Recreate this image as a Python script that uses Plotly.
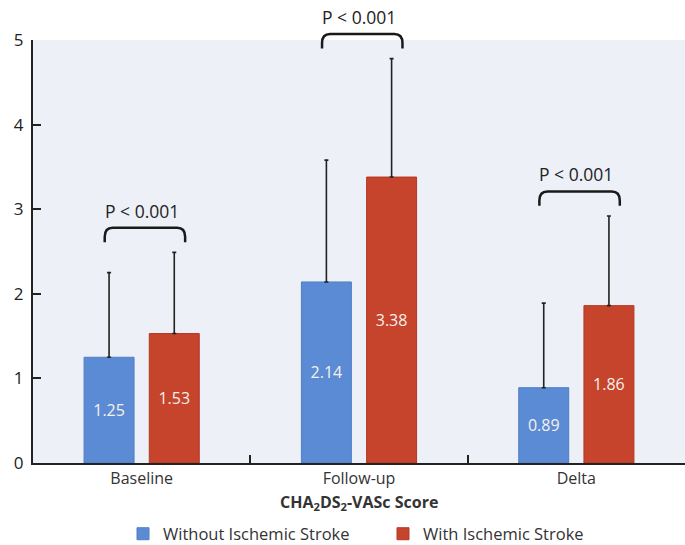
import plotly.graph_objects as go

categories = ["Baseline", "Follow-up", "Delta"]
without_mean = [1.25, 2.14, 0.89]
without_sd = [1.00, 1.44, 1.00]
with_mean = [1.53, 3.38, 1.86]
with_sd = [0.96, 1.40, 1.06]
p_labels = ["P < 0.001", "P < 0.001", "P < 0.001"]
y_ticks = [0, 1, 2, 3, 4, 5]
series_names = ["Without Ischemic Stroke", "With Ischemic Stroke"]

FONT = "Open Sans"
BLUE = "#5b8bd4"
RED = "#c6432c"
INK = "#222222"

BAR_W = 0.23
fig = go.Figure()
for name, mean, sd, color, edge, off in [
    (series_names[0], without_mean, without_sd, BLUE, "#4f7fc6", -0.265),
    (series_names[1], with_mean, with_sd, RED, "#b43824", 0.035),
]:
    fig.add_trace(go.Bar(
        x=categories, y=mean, name=name, width=BAR_W, offset=off,
        marker=dict(color=color, line=dict(color=edge, width=1)),
        error_y=dict(type="data", array=sd, arrayminus=[0] * len(sd), symmetric=False,
                     color=INK, thickness=1.6, width=2),
        text=[f"{v:.2f}" for v in mean], textposition="inside",
        insidetextanchor="middle", textangle=0,
        textfont=dict(family=FONT, size=16, color="#f6f1ec"),
    ))

ymax = 5.0
ncat = len(categories)

def px(xi, off):
    return (xi + off + 0.5) / ncat

def py(v):
    return v / ymax

rx = 8 / 651
ry = 9 / 423
shapes = []
annotations = []
for i, cat in enumerate(categories):
    top = max(without_mean[i] + without_sd[i], with_mean[i] + with_sd[i])
    yt = py(top + 0.29)
    yb = py(top + 0.12)
    xl = px(i, -0.17)
    xr = px(i, 0.20)
    path = (f"M {xl},{yb} L {xl},{yt - ry} Q {xl},{yt} {xl + rx},{yt} "
            f"L {xr - rx},{yt} Q {xr},{yt} {xr},{yt - ry} L {xr},{yb}")
    shapes.append(dict(type="path", path=path, xref="paper", yref="paper",
                       line=dict(color="#1a1a1a", width=2.5)))
    annotations.append(dict(x=px(i, 0.0), y=yt + 17 / 423, xref="paper", yref="paper",
                            text=p_labels[i], showarrow=False, xanchor="center", yanchor="middle",
                            font=dict(family=FONT, size=17.5, color=INK)))

annotations.append(dict(x=0.5, y=-39 / 423, xref="paper", yref="paper",
                        text="<b>CHA<sub>2</sub>DS<sub>2</sub>-VASc Score</b>",
                        showarrow=False, xanchor="center", yanchor="middle",
                        font=dict(family=FONT, size=16, color="#333333")))

fig.update_layout(
    width=685, height=545,
    margin=dict(l=33, r=0, t=40, b=82),
    paper_bgcolor="white", plot_bgcolor="#edf0f7",
    font=dict(family=FONT, color=INK),
    showlegend=True,
    legend=dict(orientation="h", xref="container", yref="container",
                x=(123) / 685, xanchor="left", y=(545 - 534) / 545, yanchor="middle",
                entrywidth=215, entrywidthmode="pixels",
                font=dict(family=FONT, size=16.5, color="#333333"),
                itemclick=False, itemdoubleclick=False, traceorder="normal"),
    shapes=shapes, annotations=annotations,
)
fig.update_xaxes(range=[-0.5, 2.5], showline=True, linecolor=INK, linewidth=2,
                 ticks="inside", tickson="boundaries", ticklen=8, tickwidth=2, tickcolor=INK,
                 tickfont=dict(family=FONT, size=16, color="#333333"), showgrid=False)
fig.update_yaxes(range=[0, ymax], tickvals=y_ticks, showline=True, linecolor=INK, linewidth=2,
                 ticks="inside", ticklen=8, tickwidth=2, tickcolor=INK, ticklabelstandoff=4,
                 tickfont=dict(family=FONT, size=17, color=INK), showgrid=False, zeroline=False)

fig.write_html("out.html")
